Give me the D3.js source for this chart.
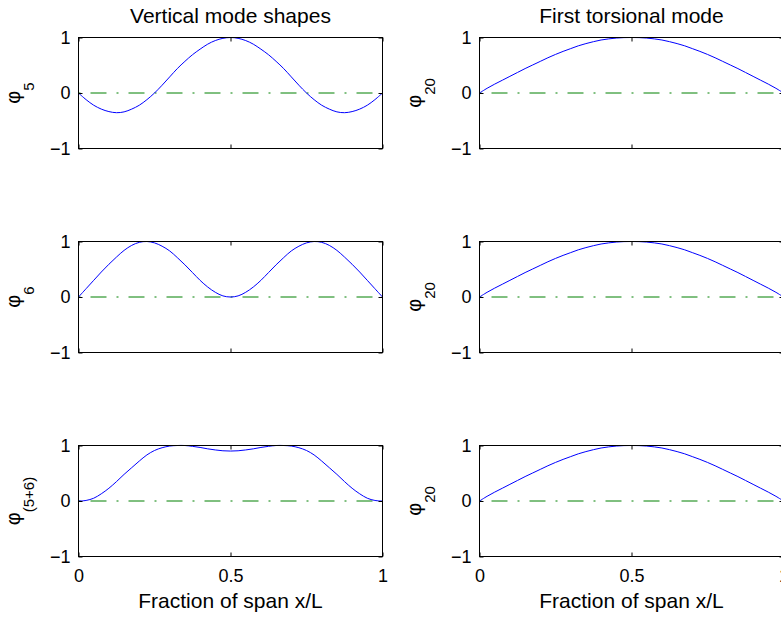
<!DOCTYPE html>
<html>
<head>
<meta charset="utf-8">
<script src="https://cdn.jsdelivr.net/npm/d3@7"></script>
<style>
  body { margin: 0; background: #fff; }
  svg { display: block; }
  text { font-family: "Liberation Sans", Arial, Helvetica, sans-serif; fill: #000; }
</style>
</head>
<body>
<svg id="chart" width="781" height="618"></svg>
<script>
// Sample positions along the span (x/L)
const spanX = [0, 0.025, 0.05, 0.075, 0.1, 0.125, 0.15, 0.175, 0.2, 0.225,
  0.25, 0.275, 0.3, 0.325, 0.35, 0.375, 0.4, 0.425, 0.45, 0.475,
  0.5, 0.525, 0.55, 0.575, 0.6, 0.625, 0.65, 0.675, 0.7, 0.725,
  0.75, 0.775, 0.8, 0.825, 0.85, 0.875, 0.9, 0.925, 0.95, 0.975, 1];

// Vertical mode 5
const phi5 = [0, -0.12, -0.22, -0.29, -0.335, -0.355, -0.34, -0.29, -0.22, -0.12,
  0, 0.14, 0.29, 0.44, 0.57, 0.69, 0.79, 0.88, 0.945, 0.985,
  1, 0.985, 0.945, 0.88, 0.79, 0.69, 0.57, 0.44, 0.29, 0.14,
  0, -0.12, -0.22, -0.29, -0.34, -0.355, -0.335, -0.29, -0.22, -0.12, 0];

// Vertical mode 6
const phi6 = [0, 0.15, 0.3, 0.45, 0.59, 0.72, 0.84, 0.93, 0.985, 1,
  0.975, 0.915, 0.83, 0.71, 0.58, 0.44, 0.3, 0.18, 0.085, 0.02,
  0, 0.02, 0.085, 0.18, 0.3, 0.44, 0.58, 0.71, 0.83, 0.915,
  0.975, 1, 0.985, 0.93, 0.84, 0.72, 0.59, 0.45, 0.3, 0.15, 0];

// Combined vertical modes 5 + 6
const phi56 = [0, 0.01, 0.05, 0.13, 0.23, 0.35, 0.48, 0.6, 0.72, 0.83,
  0.91, 0.96, 0.99, 1, 1, 0.985, 0.965, 0.94, 0.92, 0.905,
  0.9, 0.905, 0.92, 0.94, 0.965, 0.985, 1, 1, 0.99, 0.96,
  0.91, 0.83, 0.72, 0.6, 0.48, 0.35, 0.23, 0.13, 0.05, 0.01, 0];

// First torsional mode (mode 20)
const phi20 = [0, 0.085, 0.16, 0.23, 0.3, 0.37, 0.44, 0.505, 0.57, 0.635,
  0.695, 0.75, 0.8, 0.85, 0.89, 0.925, 0.955, 0.975, 0.99, 0.998,
  1, 0.998, 0.99, 0.975, 0.955, 0.925, 0.89, 0.85, 0.8, 0.75,
  0.695, 0.635, 0.57, 0.505, 0.44, 0.37, 0.3, 0.23, 0.16, 0.085, 0];

const xTicks = [0, 0.5, 1];
const xTickLabels = ["0", "0.5", "1"];
const yTicks = [-1, 0, 1];
const yTickLabels = ["\u22121", "0", "1"];
const columnTitles = ["Vertical mode shapes", "First torsional mode"];
const xAxisLabel = "Fraction of span x/L";

// Panel table: column, row, series, subscript of the y label
const panels = [
  { col: 0, row: 0, values: phi5,  sub: "5" },
  { col: 0, row: 1, values: phi6,  sub: "6" },
  { col: 0, row: 2, values: phi56, sub: "(5+6)" },
  { col: 1, row: 0, values: phi20, sub: "20" },
  { col: 1, row: 1, values: phi20, sub: "20" },
  { col: 1, row: 2, values: phi20, sub: "20" }
];

// Layout
const colLeft = [78.5, 479.5];
const rowTop = [37.5, 241.5, 445.5];
const plotW = 304, plotH = 111;
const tickFont = 18, labelFont = 21;

const svg = d3.select("#chart");

panels.forEach(p => {
  const x0 = colLeft[p.col], y0 = rowTop[p.row];
  const x = d3.scaleLinear().domain([0, 1]).range([x0, x0 + plotW]);
  const y = d3.scaleLinear().domain([-1, 1]).range([y0 + plotH, y0]);
  const g = svg.append("g");

  // zero reference line (dash-dot)
  g.append("line")
    .attr("x1", x(0)).attr("x2", x(1))
    .attr("y1", y(0)).attr("y2", y(0))
    .attr("stroke", "#008000").attr("stroke-width", 1)
    .attr("stroke-dasharray", "2,10,16,10");

  // mode shape curve
  const line = d3.line()
    .x((d, i) => x(spanX[i]))
    .y(d => y(d))
    .curve(d3.curveCatmullRom.alpha(0.5));
  g.append("path")
    .datum(p.values)
    .attr("d", line)
    .attr("fill", "none")
    .attr("stroke", "#0000ff")
    .attr("stroke-width", 1);

  // inward ticks on all four sides
  const showX = p.row === 2;
  const bottom = g.append("g").attr("transform", `translate(0,${y0 + plotH})`)
    .call(d3.axisBottom(x).tickValues(xTicks)
      .tickFormat((d, i) => showX ? xTickLabels[i] : "")
      .tickSizeInner(-4).tickSizeOuter(0).tickPadding(13));
  g.append("g").attr("transform", `translate(0,${y0})`)
    .call(d3.axisTop(x).tickValues(xTicks).tickFormat("")
      .tickSizeInner(-4).tickSizeOuter(0));
  const left = g.append("g").attr("transform", `translate(${x0},0)`)
    .call(d3.axisLeft(y).tickValues(yTicks)
      .tickFormat((d, i) => yTickLabels[i])
      .tickSizeInner(-4).tickSizeOuter(0).tickPadding(8));
  g.append("g").attr("transform", `translate(${x0 + plotW},0)`)
    .call(d3.axisRight(y).tickValues(yTicks).tickFormat("")
      .tickSizeInner(-4).tickSizeOuter(0));

  g.selectAll(".domain").remove();
  g.selectAll(".tick line").attr("stroke", "#000");
  g.selectAll(".tick text")
    .attr("font-family", null)
    .style("font-size", tickFont + "px")
    .attr("fill", "#000");
  bottom.attr("font-family", null).attr("font-size", null);
  left.attr("font-family", null).attr("font-size", null);

  // axes box
  g.append("rect")
    .attr("x", x0).attr("y", y0)
    .attr("width", plotW).attr("height", plotH)
    .attr("fill", "none").attr("stroke", "#000").attr("stroke-width", 1);

  // y label: phi with subscript, rotated
  const yl = g.append("text")
    .attr("transform", `translate(${x0 - 59},${y0 + plotH / 2}) rotate(-90)`)
    .attr("text-anchor", "middle");
  yl.append("tspan").text("\u03C6").style("font-size", "20px");
  yl.append("tspan").text(p.sub).attr("dy", 14).style("font-size", "15px");

  // column title
  if (p.row === 0) {
    g.append("text")
      .attr("x", x0 + plotW / 2).attr("y", 23)
      .attr("text-anchor", "middle")
      .style("font-size", labelFont + "px")
      .text(columnTitles[p.col]);
  }
  // x axis label
  if (p.row === 2) {
    g.append("text")
      .attr("x", x0 + plotW / 2).attr("y", y0 + plotH + 51)
      .attr("text-anchor", "middle")
      .style("font-size", labelFont + "px")
      .text(xAxisLabel);
  }
});
</script>
</body>
</html>
